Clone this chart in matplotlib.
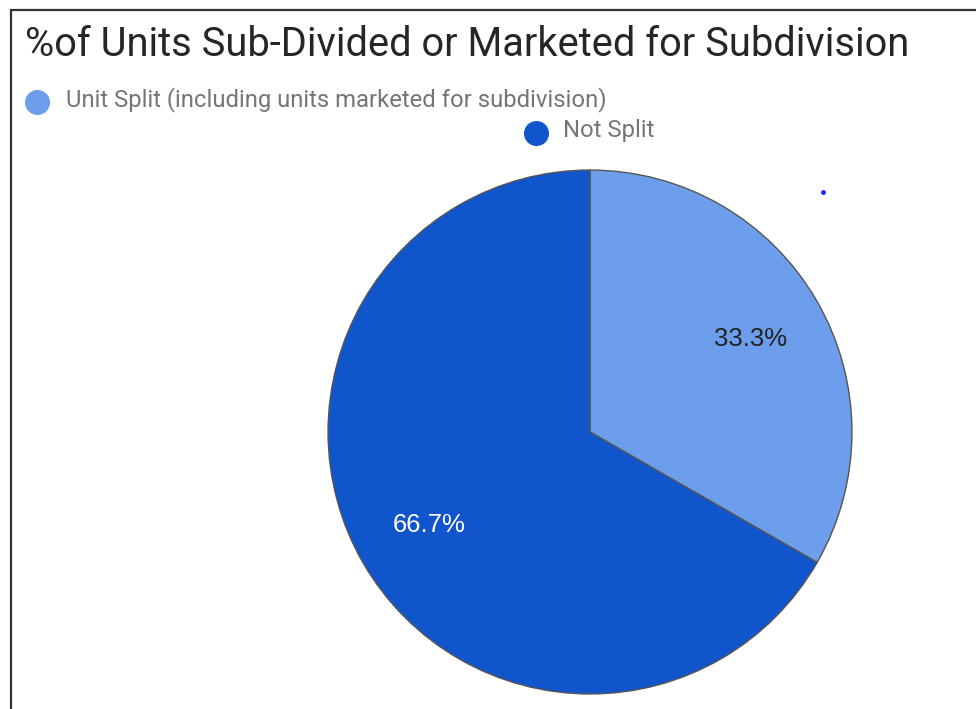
import matplotlib
matplotlib.use("Agg")
import matplotlib.pyplot as plt
from matplotlib.lines import Line2D
from matplotlib.patches import Rectangle

plt.rcParams['font.family'] = ['Roboto', 'DejaVu Sans']

title = "%of Units Sub-Divided or Marketed for Subdivision"
labels = ["Unit Split (including units marketed for subdivision)", "Not Split"]
shares = [33.3, 66.7]
colors = ["#6d9eeb", "#1155cc"]
pct_colors = ["#222222", "#ffffff"]

W, H = 976, 709
fig = plt.figure(figsize=(W / 100, H / 100), dpi=100)

# frame around the chart (runs off the right and bottom edges)
fig.patches.append(Rectangle((11 / W, -0.1), 1.2, (H - 10) / H + 0.1, transform=fig.transFigure,
                             fill=False, edgecolor="#333333", linewidth=1.6))

fig.text(25 / W, 1 - 44 / H, title, fontsize=28.7, color="#262626", va="center", ha="left")

# legend entries
fig.add_artist(Line2D([37 / W], [1 - 102 / H], marker="o", markersize=17, color=colors[0],
                      transform=fig.transFigure, linestyle="none"))
fig.text(66 / W, 1 - 100 / H, labels[0], fontsize=17.2, color="#757575", va="center")
fig.add_artist(Line2D([536 / W], [1 - 133 / H], marker="o", markersize=17, color=colors[1],
                      transform=fig.transFigure, linestyle="none"))
fig.text(563 / W, 1 - 131 / H, labels[1], fontsize=17.2, color="#757575", va="center")

# stray dot in the source
fig.add_artist(Line2D([823 / W], [1 - 192 / H], marker="o", markersize=2.5, color="#2222ff",
                      transform=fig.transFigure, linestyle="none"))

cx, cy, r = 590, 432, 263
ax = fig.add_axes([(cx - r) / W, (H - cy - r) / H, 2 * r / W, 2 * r / H])
wedges, texts, autotexts = ax.pie(shares, colors=colors, startangle=90, counterclock=False,
                                  autopct="%.1f%%", pctdistance=0.71,
                                  wedgeprops=dict(edgecolor="#555555", linewidth=1.0))
for t, c in zip(autotexts, pct_colors):
    t.set_color(c)
    t.set_fontsize(18.5)
    t.set_family(["Liberation Sans", "DejaVu Sans"])
ax.set_xlim(-1.004, 1.004)
ax.set_ylim(-1.004, 1.004)
ax.set_aspect("auto")
ax.axis("off")

fig.savefig("out.png", dpi=100)
